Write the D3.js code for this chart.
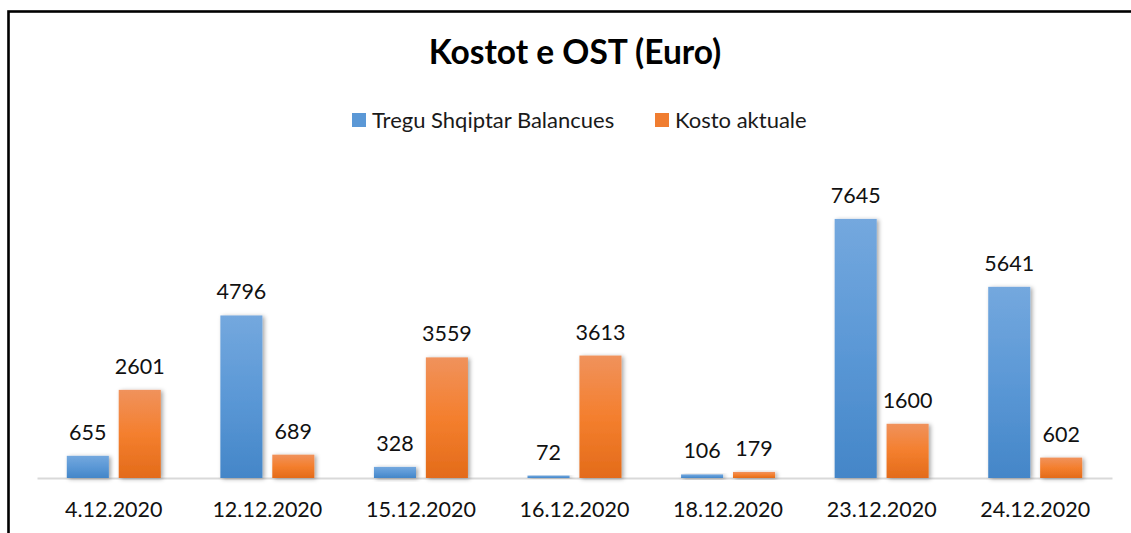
<!DOCTYPE html>
<html>
<head>
<meta charset="utf-8">
<script src="https://cdn.jsdelivr.net/npm/d3@7"></script>
<style>
  html, body { margin: 0; padding: 0; background: #fff; }
  svg { display: block; font-family: Lato, "Open Sans", sans-serif; }
</style>
</head>
<body>
<svg id="chart" width="1131" height="533"></svg>
<script>
// Kostot e OST (Euro) — grouped bars per date
const dates = ["4.12.2020", "12.12.2020", "15.12.2020", "16.12.2020", "18.12.2020", "23.12.2020", "24.12.2020"];
const seriesNames = ["Tregu Shqiptar Balancues", "Kosto aktuale"];
const tregu = [655, 4796, 328, 72, 106, 7645, 5641];
const kosto = [2601, 689, 3559, 3613, 179, 1600, 602];
const yMax = 9000;

const rows = dates.map((d, i) => ({ date: d, values: [tregu[i], kosto[i]] }));

const W = 1131, H = 533;
const svg = d3.select("#chart");

const defs = svg.append("defs");
const grads = [
  { id: "gBlue", top: "#74a8de", mid: "#5b98d6", bottom: "#4486c8" },
  { id: "gOrange", top: "#f0925c", mid: "#f47f2e", bottom: "#e36b1a" }
];
grads.forEach(g => {
  const lg = defs.append("linearGradient").attr("id", g.id)
    .attr("x1", 0).attr("y1", 0).attr("x2", 0).attr("y2", 1);
  lg.append("stop").attr("offset", "0%").attr("stop-color", g.top);
  lg.append("stop").attr("offset", "50%").attr("stop-color", g.mid);
  lg.append("stop").attr("offset", "100%").attr("stop-color", g.bottom);
});
const shadow = defs.append("filter").attr("id", "barShadow")
  .attr("x", "-20%").attr("y", "-20%").attr("width", "150%").attr("height", "150%");
shadow.append("feDropShadow").attr("dx", 2).attr("dy", 1)
  .attr("stdDeviation", 2).attr("flood-color", "#000").attr("flood-opacity", 0.35);

const fills = ["url(#gBlue)", "url(#gOrange)"];
const swatch = ["#5b98d6", "#f07d30"];

// outer frame
svg.append("rect")
  .attr("x", 8.5).attr("y", 11.5)
  .attr("width", W + 20).attr("height", H + 20)
  .attr("fill", "none").attr("stroke", "#000").attr("stroke-width", 2.6);

// title
svg.append("text")
  .attr("x", 575).attr("y", 64)
  .attr("text-anchor", "middle")
  .attr("font-size", 33.5).attr("font-weight", "bold").attr("fill", "#000")
  .text("Kostot e OST (Euro)");

// legend
const legendItems = [
  { x: 352, label: seriesNames[0], color: swatch[0] },
  { x: 655, label: seriesNames[1], color: swatch[1] }
];
const lg = svg.append("g");
legendItems.forEach(it => {
  lg.append("rect").attr("x", it.x).attr("y", 113).attr("width", 14).attr("height", 14)
    .attr("fill", it.color);
  lg.append("text").attr("x", it.x + 20).attr("y", 127.5)
    .attr("font-size", 22).attr("fill", "#1a1a1a").text(it.label);
});

// scales
const baseY = 478, topY = 173;
const x0 = d3.scaleBand().domain(dates).range([37, 1112])
  .paddingInner(0.388).paddingOuter(0.194);
const x1 = d3.scaleBand().domain([0, 1]).range([0, x0.bandwidth()]).paddingInner(0.19);
const y = d3.scaleLinear().domain([0, yMax]).range([baseY, topY]);

// axis
const axis = svg.append("g").attr("transform", `translate(0,${baseY})`)
  .call(d3.axisBottom(x0).tickSize(0).tickPadding(0));
axis.select(".domain").attr("stroke", "#d9d9d9").attr("stroke-width", 2);
axis.selectAll(".tick text")
  .attr("font-family", "Lato, 'Open Sans', sans-serif")
  .attr("font-size", 21.5).attr("fill", "#111")
  .attr("dy", 0).attr("y", 39);

// bars
const groups = svg.append("g").selectAll("g").data(rows).join("g")
  .attr("transform", d => `translate(${x0(d.date)},0)`);

groups.selectAll("rect").data(d => d.values.map((v, k) => ({ v, k }))).join("rect")
  .attr("x", d => x1(d.k))
  .attr("y", d => y(d.v))
  .attr("width", x1.bandwidth())
  .attr("height", d => baseY - y(d.v))
  .attr("fill", d => fills[d.k])
  .attr("filter", "url(#barShadow)");

groups.selectAll("text.val").data(d => d.values.map((v, k) => ({ v, k }))).join("text")
  .attr("class", "val")
  .attr("x", d => x1(d.k) + x1.bandwidth() / 2)
  .attr("y", d => y(d.v) - 16)
  .attr("text-anchor", "middle")
  .attr("font-size", 21.5).attr("fill", "#111")
  .text(d => d.v);
</script>
</body>
</html>
